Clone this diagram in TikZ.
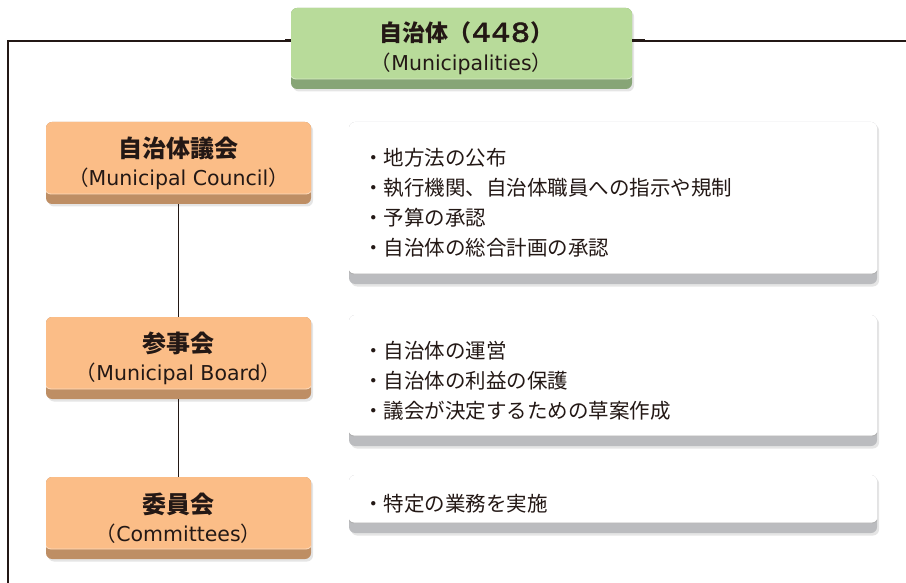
\documentclass[tikz,border=0pt]{standalone}
\usepackage{fontspec}
\setmainfont{Noto Sans CJK JP}
\newfontfamily\lat{DejaVu Sans}
\newfontfamily\latwide[FakeStretch=1.18,FakeBold=1.6]{DejaVu Sans}
\usetikzlibrary{shadows}
\definecolor{gface}{HTML}{B8DB9A}
\definecolor{gedge}{HTML}{87A576}
\definecolor{oface}{HTML}{FBBD87}
\definecolor{oedge}{HTML}{BE8E64}
\definecolor{wedge}{HTML}{BBBCBF}
\definecolor{ink}{HTML}{231815}
\begin{document}
\begin{tikzpicture}[x=1pt,y=1pt,
  box/.style={rounded corners=6pt, inner sep=0pt, text=ink,
    general shadow={shadow xshift=2pt, shadow yshift=-2.5pt, fill=black, opacity=0.10}},
  face/.style 2 args={fill=#2, path picture={
    \filldraw[fill=#1, draw=#1!55!white, line width=0.8pt, rounded corners=6pt]
      ([xshift=-1pt,yshift=1pt]path picture bounding box.north west) rectangle
      ([xshift=1pt,yshift=10pt]path picture bounding box.south east);}},
  greenbox/.style={box, face={gface}{gedge}, align=center, minimum width=341pt, minimum height=81pt,
    font=\fontsize{20.5}{29}\selectfont},
  orgbox/.style={box, face={oface}{oedge}, align=center, minimum width=265pt, minimum height=82pt,
    font=\fontsize{20.5}{28}\selectfont},
  listbox/.style={box, fill=wedge, path picture={
    \filldraw[fill=white, draw=black!32, line width=0.8pt, rounded corners=6pt]
      ([xshift=-1pt,yshift=1pt]path picture bounding box.north west) rectangle
      ([xshift=1pt,yshift=10pt]path picture bounding box.south east);},
    align=left, text width=500pt, inner xsep=14pt, minimum width=528pt,
    font=\fontsize{20.5}{30}\selectfont},
  conn/.style={draw=ink, line width=1.3pt},
  stub/.style={draw=ink, line width=3pt}
]
\useasboundingbox (0,0) rectangle (906,-583);

% top node
\node[greenbox] (muni) at (461.5,-48.5)
  {\hspace*{10pt}{\fontsize{23}{29}\selectfont\bfseries 自治体（{\latwide\fontsize{26}{29}\selectfont\mdseries 448}）}\\（{\lat Municipalities}）};

% organs
\node[orgbox] (council) at (178.5,-163)
  {{\fontsize{24}{28}\selectfont\bfseries 自治体議会}\\（{\lat Municipal Council}）};
\node[orgbox] (board) at (178.5,-358)
  {{\fontsize{24}{28}\selectfont\bfseries 参事会}\\（{\lat Municipal Board}）};
\node[orgbox] (comm) at (178.5,-518)
  {{\fontsize{24}{28}\selectfont\bfseries 委員会}\\（{\lat Committees}）};

% lists
\node[listbox, minimum height=162pt] (l1) at (613,-203)
  {・地方法の公布\\・執行機関、自治体職員への指示や規制\\・予算の承認\\・自治体の総合計画の承認};
\node[listbox, minimum height=131pt] (l2) at (613,-380.5)
  {・自治体の運営\\・自治体の利益の保護\\・議会が決定するための草案作成};
\node[listbox, minimum height=58pt] (l3) at (613,-504)
  {・特定の業務を実施};

% connectors
\coordinate (tl) at (8,-41);
\coordinate (bl) at (8,-583);
\coordinate (tr) at (906,-41);
\draw[conn] (muni.west |- tl) -- (tl) -- (bl);
\draw[conn] (muni.east |- tr) -- (tr);
\draw[stub] (muni.west |- tl) -- ++(-6,0);
\draw[stub] (muni.east |- tr) -- ++(13,0);
\draw[conn] (council.south) -- (board.north);
\draw[conn] (board.south) -- (comm.north);
\end{tikzpicture}
\end{document}
